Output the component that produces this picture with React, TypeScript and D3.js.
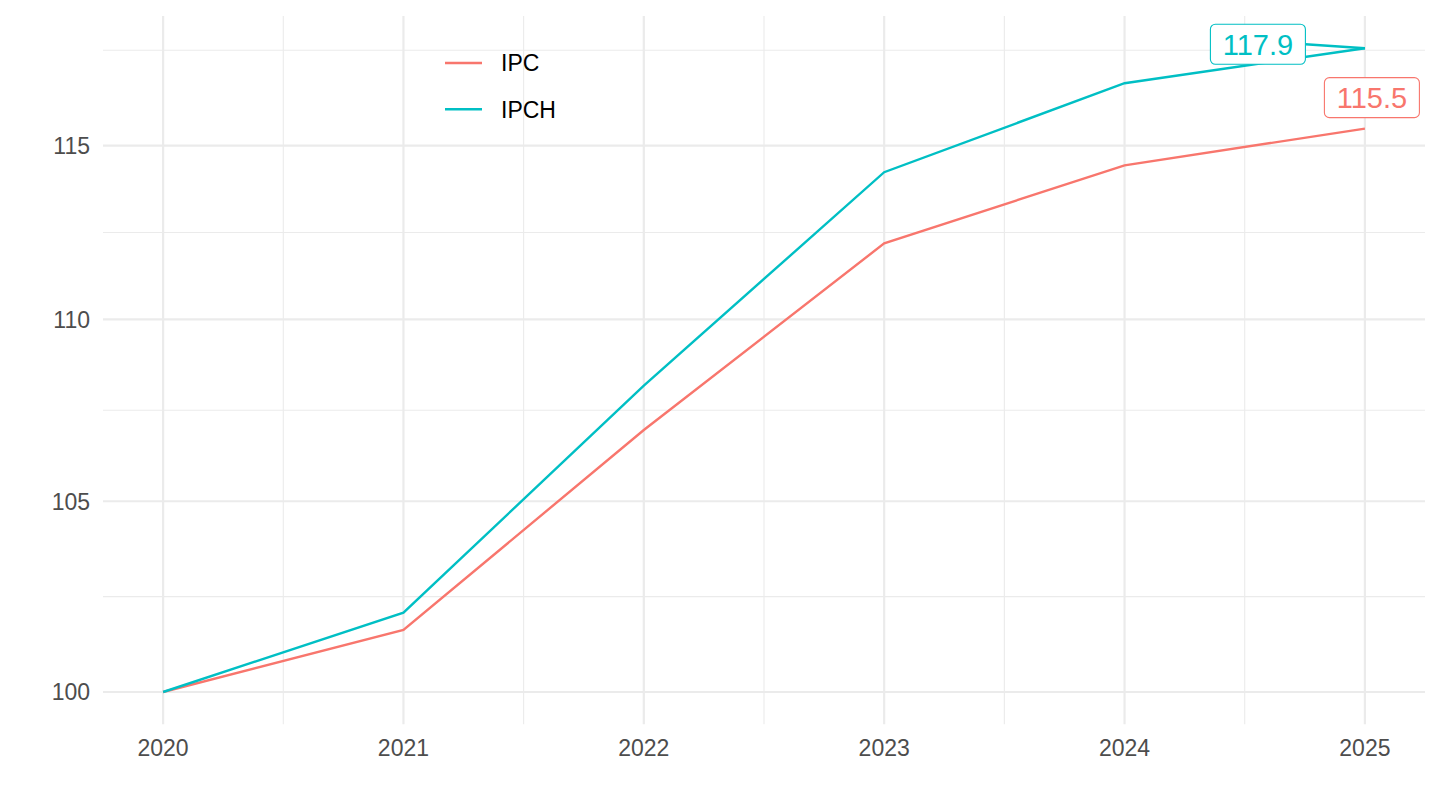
import React from "react";
import * as d3 from "d3";

const years = [2020, 2021, 2022, 2023, 2024, 2025];
const ipc = [100, 101.6, 106.93, 112.16, 114.42, 115.5];
const ipch = [100, 102.05, 108.15, 114.22, 116.85, 117.9];
const seriesNames = ["IPC", "IPCH"];
const seriesColors = ["#F8766D", "#00BFC4"];
const yTicks = [100, 105, 110, 115];
const xTicks = [2020, 2021, 2022, 2023, 2024, 2025];
const labelTexts = ["115.5", "117.9"];

const W = 1440;
const H = 810;
const left = 103;
const right = 1425;
const FONT = "'Liberation Sans', Arial, Helvetica, sans-serif";

export default function App() {
  const x = d3.scaleLinear().domain([2019.75, 2025.25]).range([left, right]);
  // log scale with ggplot-style 5% expansion in log space
  const lmin = Math.log10(100);
  const lmax = Math.log10(117.9);
  const ex = (lmax - lmin) * 0.05;
  const yTop = 692 - (lmax + ex - 2) * 9002;
  const yBot = 692 + ex * 9002;
  const y = d3
    .scaleLog()
    .domain([Math.pow(10, lmin - ex), Math.pow(10, lmax + ex)])
    .range([yBot, yTop]);

  // minor breaks (midpoints in log space, with extension like ggplot)
  const lt = yTicks.map((v) => Math.log10(v));
  const bd = lt[1] - lt[0];
  const ext = [...lt, lt[lt.length - 1] + bd];
  const yMinor: number[] = [];
  for (let i = 0; i < ext.length - 1; i++) {
    const m = Math.pow(10, (ext[i] + ext[i + 1]) / 2);
    if (m < Math.pow(10, lmax + ex)) yMinor.push(m);
  }
  const xMinor = xTicks.slice(0, -1).map((v) => v + 0.5);

  const line = d3
    .line<[number, number]>()
    .x((d) => x(d[0]))
    .y((d) => y(d[1]));

  const series = [ipc, ipch];
  const lastIdx = years.length - 1;

  // label placement relative to last data point
  const labelOffsets = [
    [7, -31],
    [-107, -4],
  ];
  const boxW = 95;
  const boxH = 40;

  return (
    <div style={{ position: "fixed", left: 0, top: 0 }}>
      <svg width={W} height={H} style={{ display: "block", background: "#fff" }}>
        {/* minor grid */}
        {yMinor.map((v, i) => (
          <line key={"ym" + i} x1={left} x2={right} y1={y(v)} y2={y(v)} stroke="#EBEBEB" strokeWidth={1.1} />
        ))}
        {xMinor.map((v, i) => (
          <line key={"xm" + i} x1={x(v)} x2={x(v)} y1={yTop} y2={yBot} stroke="#EBEBEB" strokeWidth={1.1} />
        ))}
        {/* major grid */}
        {yTicks.map((v, i) => (
          <line key={"yM" + i} x1={left} x2={right} y1={y(v)} y2={y(v)} stroke="#EBEBEB" strokeWidth={2.2} />
        ))}
        {xTicks.map((v, i) => (
          <line key={"xM" + i} x1={x(v)} x2={x(v)} y1={yTop} y2={yBot} stroke="#EBEBEB" strokeWidth={2.2} />
        ))}
        {/* axis labels */}
        {yTicks.map((v, i) => (
          <text
            key={"yl" + i}
            x={90}
            y={y(v)}
            dy="0.36em"
            textAnchor="end"
            fontFamily={FONT}
            fontSize={23}
            fill="#4D4D4D"
          >
            {v}
          </text>
        ))}
        {xTicks.map((v, i) => (
          <text
            key={"xl" + i}
            x={x(v)}
            y={756}
            textAnchor="middle"
            fontFamily={FONT}
            fontSize={23}
            fill="#4D4D4D"
          >
            {v}
          </text>
        ))}
        {/* lines */}
        {series.map((s, k) => (
          <path
            key={"s" + k}
            d={line(years.map((yr, i) => [yr, s[i]]) as [number, number][]) || ""}
            fill="none"
            stroke={seriesColors[k]}
            strokeWidth={2.4}
          />
        ))}
        {/* labels */}
        {series.map((s, k) => {
          const px = x(years[lastIdx]);
          const py = y(s[lastIdx]);
          const cx = px + labelOffsets[k][0];
          const cy = py + labelOffsets[k][1];
          return (
            <g key={"lab" + k}>
              {k === 1 && (
                <line x1={cx + boxW / 2} y1={cy} x2={px} y2={py} stroke={seriesColors[k]} strokeWidth={2.4} />
              )}
              <rect
                x={cx - boxW / 2}
                y={cy - boxH / 2}
                width={boxW}
                height={boxH}
                rx={5}
                fill="#fff"
                stroke={seriesColors[k]}
                strokeWidth={1.1}
              />
              <text
                x={cx}
                y={cy}
                dy="0.36em"
                textAnchor="middle"
                fontFamily={FONT}
                fontSize={29}
                fill={seriesColors[k]}
              >
                {labelTexts[k]}
              </text>
            </g>
          );
        })}
        {/* legend */}
        {seriesNames.map((n, k) => (
          <g key={"lg" + k} transform={`translate(0, ${63 + k * 46.3})`}>
            <line x1={445} x2={482} y1={0} y2={0} stroke={seriesColors[k]} strokeWidth={2.4} />
            <text x={501} y={0} dy="0.36em" fontFamily={FONT} fontSize={23} fill="#000">
              {n}
            </text>
          </g>
        ))}
      </svg>
    </div>
  );
}
